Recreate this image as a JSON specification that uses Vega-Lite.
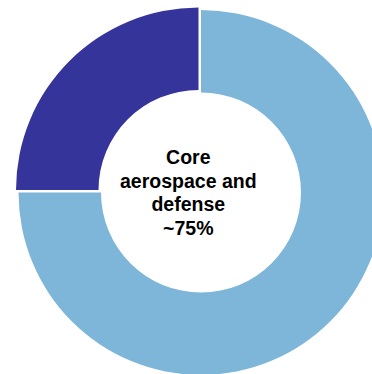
{
  "$schema": "https://vega.github.io/schema/vega-lite/v6.json",
  "width": 402,
  "height": 385,
  "padding": 0,
  "autosize": {"type": "none"},
  "background": "white",
  "config": {"view": {"stroke": null}},
  "data": {"values": [
    {"segment": "Core aerospace and defense", "share": 75, "order": 1},
    {"segment": "Other", "share": 25, "order": 2}
  ]},
  "layer": [
    {
      "mark": {"type": "arc", "outerRadius": 182.5, "innerRadius": 100},
      "encoding": {
        "theta": {"field": "share", "type": "quantitative", "stack": true},
        "order": {"field": "order", "type": "quantitative"},
        "color": {
          "field": "segment", "type": "nominal",
          "scale": {"domain": ["Core aerospace and defense", "Other"], "range": ["#7EB6D9", "#35349A"]},
          "legend": null
        },
        "opacity": {"condition": {"test": "datum.segment === 'Other'", "value": 0}, "value": 1}
      }
    },
    {
      "mark": {"type": "arc", "outerRadius": 182.5, "innerRadius": 100, "xOffset": -2.5, "yOffset": -2.5},
      "encoding": {
        "theta": {"field": "share", "type": "quantitative", "stack": true},
        "order": {"field": "order", "type": "quantitative"},
        "color": {
          "field": "segment", "type": "nominal",
          "scale": {"domain": ["Core aerospace and defense", "Other"], "range": ["#7EB6D9", "#35349A"]},
          "legend": null
        },
        "opacity": {"condition": {"test": "datum.segment === 'Other'", "value": 1}, "value": 0}
      }
    },
    {
      "data": {"values": [
        {"label": ["Core", "aerospace and", "defense", "~75%"]}
      ]},
      "mark": {"type": "text", "font": "Liberation Sans", "fontSize": 19.5, "fontWeight": "bold", "lineHeight": 23.5, "align": "center", "baseline": "middle", "color": "black", "dx": -12.7, "dy": -34.5},
      "encoding": {"text": {"field": "label"}}
    }
  ]
}
